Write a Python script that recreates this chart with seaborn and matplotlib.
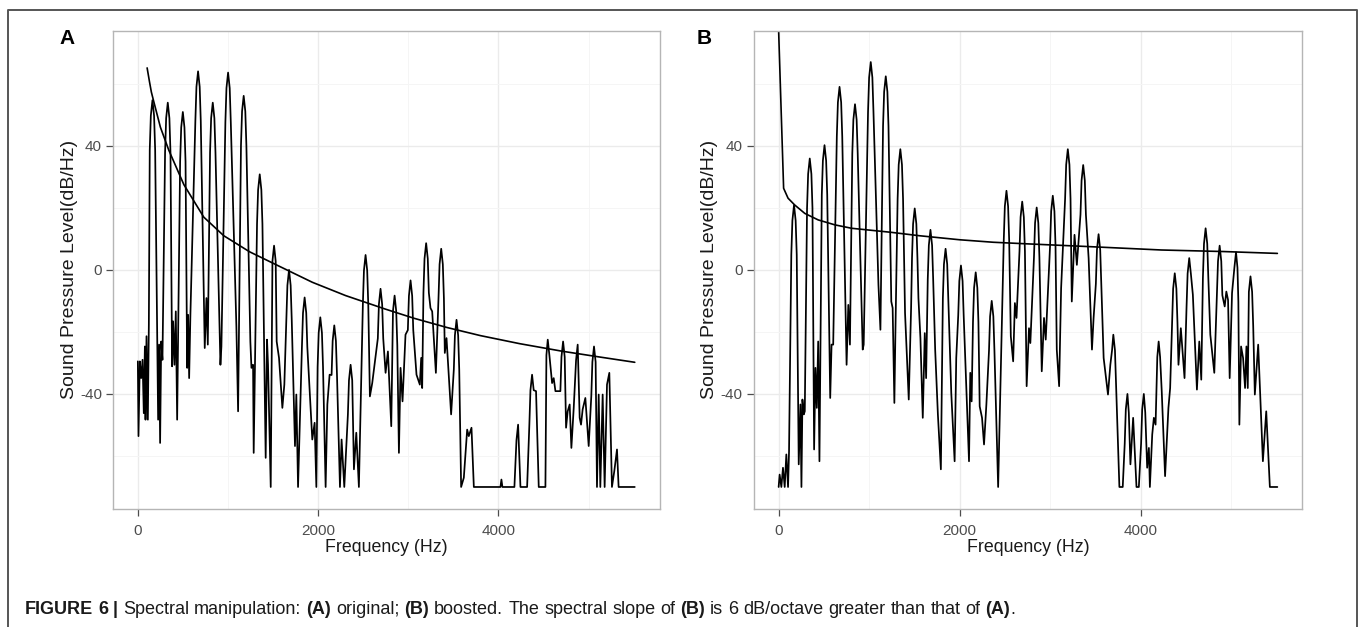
import numpy as np
import pandas as pd
import matplotlib
matplotlib.use("Agg")
import matplotlib.pyplot as plt
from matplotlib.lines import Line2D
from matplotlib import font_manager
import seaborn as sns

# ---------------- data ----------------
a_freq = [0, 7, 22, 37, 52, 66, 78, 85, 96, 111, 122,
          132, 144, 162, 180, 192,
          225, 236, 247, 259, 273,
          302, 314, 332, 350, 362,
          380, 391, 406, 421, 436,
          469, 481, 499, 517, 529,
          547, 558, 569, 583,
          638, 650, 668, 686, 698,
          742, 761, 776,
          801, 813, 831, 849, 861,
          916, 927,
          971, 983, 1001, 1019, 1031,
          1093, 1112,
          1144, 1156, 1174, 1192, 1204,
          1248, 1260, 1278, 1285,
          1322, 1334, 1352, 1370, 1382,
          1418, 1433, 1444, 1474,
          1493, 1511, 1529,
          1540, 1566, 1603, 1625,
          1647, 1659, 1677, 1695, 1707,
          1743, 1758, 1777,
          1820, 1832, 1850, 1868, 1880,
          1935, 1961, 1980,
          1994, 2006, 2024, 2042, 2054,
          2083, 2102, 2127,
          2149, 2161, 2179, 2197, 2209,
          2242, 2260, 2290,
          2330, 2342, 2360, 2378,
          2397, 2423, 2452,
          2496, 2508, 2526, 2544, 2556,
          2574, 2600,
          2662, 2674, 2692, 2710, 2722,
          2748, 2774, 2811,
          2830, 2848, 2866, 2878,
          2896, 2914, 2936, 2969,
          2995, 3007, 3025, 3043, 3055,
          3091, 3128, 3143, 3154,
          3168, 3180, 3198, 3216, 3228,
          3246, 3265, 3306,
          3335, 3347, 3365, 3383, 3395,
          3405, 3424, 3475,
          3505, 3517, 3535, 3553, 3565,
          3586, 3616, 3653, 3671, 3701, 3727, 4022, 4033, 4044, 4177,
          4200, 4218, 4244, 4318,
          4343, 4355, 4373, 4391,
          4417, 4447, 4521,
          4532, 4547, 4565,
          4595, 4613, 4632,
          4687, 4699, 4717, 4735,
          4750, 4768, 4790, 4809, 4835,
          4861, 4879,
          4901, 4916, 4934, 4964, 5001,
          5030, 5042, 5060, 5078,
          5093, 5112, 5130, 5156, 5178, 5204, 5230, 5259, 5285, 5315, 5333, 5512]
a_db = [-29.5, -53.6, -29.5, -34.9, -29.0, -46.2, -24.7, -48.3, -21.4, -48.3, -17.7,
        38.7, 49.7, 54.7, 49.7, 38.7,
        -48.3, -24.1, -55.8, -23.1, -29.0,
        37.9, 48.9, 53.9, 48.9, 37.9,
        -31.1, -16.6, -30.6, -13.4, -48.3,
        34.9, 45.9, 50.9, 45.9, 34.9,
        -31.6, -14.5, -34.9, -14.5,
        48.0, 59.0, 64.0, 59.0, 48.0,
        -25.2, -9.1, -24.1,
        37.9, 48.9, 53.9, 48.9, 37.9,
        -30.6, -24.7,
        47.6, 58.6, 63.6, 58.6, 47.6,
        -18.2, -45.6,
        40.1, 51.1, 56.1, 51.1, 40.1,
        -23.1, -31.6, -30.6, -59.0,
        14.8, 25.8, 30.8, 25.8, 14.8,
        -60.6, -22.5, -30.6, -70,
        2.8, 7.8, 2.8,
        -23.1, -28.4, -44.5, -37.0,
        -16.0, -5.0, 0.0, -5.0, -16.0,
        -56.8, -40.2, -70,
        -24.9, -13.9, -8.9, -13.9, -24.9,
        -54.7, -49.3, -70,
        -31.3, -20.3, -15.3, -20.3, -31.3,
        -70, -43.4, -33.8,
        -33.9, -22.9, -17.9, -22.9, -33.9,
        -70, -54.7, -70,
        -46.6, -35.6, -30.6, -35.6,
        -64.3, -52.5, -70,
        -11.2, -0.2, 4.8, -0.2, -11.2,
        -40.8, -36.5,
        -22.1, -11.1, -6.1, -11.1, -22.1,
        -33.2, -26.3, -50.4,
        -13.3, -8.3, -13.3, -24.3,
        -59.0, -31.6, -42.4, -20.9,
        -19.4, -8.4, -3.4, -8.4, -19.4,
        -33.8, -37.0, -28.4, -38.1,
        -7.4, 3.6, 8.6, 3.6, -7.4,
        -12.3, -13.4, -33.2,
        -9.2, 1.8, 6.8, 1.8, -9.2,
        -26.8, -22.0, -46.6,
        -32.1, -21.1, -16.1, -21.1, -32.1,
        -70, -67.0, -51.5, -53.6, -50.9, -70, -70, -67.6, -70, -70,
        -54.9, -49.9, -70, -70,
        -49.8, -38.8, -33.8, -38.8,
        -39.1, -70, -70,
        -27.5, -22.5, -27.5,
        -36.5, -34.9, -39.1,
        -39.1, -28.1, -23.1, -28.1,
        -50.9, -45.6, -43.4, -57.4, -44.5,
        -29.1, -24.1,
        -47.7, -49.9, -45.0, -41.3, -56.8,
        -40.7, -29.7, -24.7, -29.7,
        -70, -40.2, -70, -40.2, -70, -37.0, -33.2, -70, -64.9, -57.9, -70, -70]

a_trend_freq = [103, 130, 150, 177, 250, 343, 510, 731, 953, 1241, 1566,
                1935, 2305, 2740, 3062, 3431, 3800, 4236, 4700, 5100, 5512]
a_trend_db = [65.1, 60.5, 57.3, 54.2, 46.0, 38.6, 27.5, 17.0, 11.0, 5.8, 1.2,
              -4.0, -8.3, -12.6, -15.6, -18.6, -21.2, -23.8, -26.2, -28.0, -29.8]

b_freq = [0, 11, 30, 48, 67, 85, 104, 115,
          140, 152, 170, 188, 200,
          222, 241, 252, 263, 278, 289,
          314, 326, 344, 362, 374,
          392, 407, 422, 437, 451,
          477, 489, 507, 525, 537,
          570, 585, 603,
          643, 655, 673, 691, 703,
          751, 770, 788,
          814, 826, 844, 862, 874,
          929, 940,
          988, 1000, 1018, 1036, 1048,
          1103, 1125,
          1154, 1166, 1184, 1202, 1214,
          1245, 1260, 1279, 1290,
          1315, 1327, 1345, 1363, 1375,
          1397, 1438, 1464,
          1474, 1486, 1504, 1522, 1534,
          1545, 1567, 1593, 1615, 1630,
          1648, 1660, 1678, 1696, 1708,
          1730, 1760, 1793,
          1815, 1827, 1845, 1863, 1875,
          1908, 1945, 1963,
          1985, 1997, 2015, 2033, 2045,
          2074, 2104, 2118, 2133,
          2148, 2160, 2178, 2196, 2208,
          2222, 2248, 2270, 2296,
          2325, 2337, 2355, 2373, 2385,
          2426,
          2488, 2500, 2518, 2536, 2548,
          2566, 2592, 2611, 2629,
          2662, 2674, 2692, 2710, 2722,
          2741, 2767, 2782,
          2822, 2834, 2852, 2870, 2882,
          2908, 2933, 2952,
          3000, 3012, 3030, 3048, 3060,
          3074, 3100, 3122,
          3166, 3178, 3196, 3214, 3226,
          3240, 3270, 3296,
          3336, 3348, 3366, 3384, 3396,
          3426, 3463, 3481,
          3506, 3518, 3536, 3554, 3566,
          3592, 3640, 3666,
          3685, 3699, 3717, 3729,
          3766, 3803,
          3825, 3837, 3855, 3870,
          3888, 3918, 3955, 3981,
          4006, 4018, 4036, 4052,
          4073, 4092, 4103, 4129, 4147, 4166,
          4185, 4200, 4216,
          4234, 4271, 4308, 4327,
          4348, 4360, 4378, 4396, 4408,
          4419, 4445, 4486,
          4508, 4520, 4538, 4556,
          4578, 4623, 4649, 4671,
          4689, 4701, 4719, 4737, 4749,
          4771, 4815,
          4844, 4856, 4874, 4892, 4904,
          4930, 4948, 4967, 4985, 5011,
          5037, 5055, 5071, 5081,
          5092, 5111, 5133, 5155, 5170, 5185,
          5197, 5215, 5233, 5245,
          5263, 5300, 5352, 5389, 5429, 5512]
b_db = [-70, -66.0, -70, -63.8, -70, -59.5, -70, -58.4,
        4.9, 15.9, 20.9, 15.9, 4.9,
        -62.7, -43.4, -70, -41.8, -46.6, -45.6,
        19.9, 30.9, 35.9, 30.9, 19.9,
        -57.9, -31.6, -44.5, -23.1, -61.7,
        24.2, 35.2, 40.2, 35.2, 24.2,
        -41.3, -24.1, -24.1,
        43.0, 54.0, 59.0, 54.0, 43.0,
        -30.6, -11.3, -24.1,
        37.4, 48.4, 53.4, 48.4, 37.4,
        -25.7, -24.1,
        51.0, 62.0, 67.0, 62.0, 51.0,
        -4.8, -19.3,
        46.4, 57.4, 62.4, 57.4, 46.4,
        -10.2, -12.3, -42.9, -21.4,
        22.9, 33.9, 38.9, 33.9, 22.9,
        -13.9, -41.8, -12.3,
        3.8, 14.8, 19.8, 14.8, 3.8,
        -9.1, -22.0, -47.7, -20.4, -34.9,
        -3.1, 7.9, 12.9, 7.9, -3.1,
        -25.7, -46.6, -64.3,
        -9.2, 1.8, 6.8, 1.8, -9.2,
        -39.7, -61.7, -28.4,
        -14.6, -3.6, 1.4, -3.6, -14.6,
        -38.1, -61.7, -33.2, -42.4,
        -16.8, -5.8, -0.8, -5.8, -16.8,
        -44.0, -47.7, -56.3, -43.4,
        -26.0, -15.0, -10.0, -15.0, -26.0,
        -70,
        9.5, 20.5, 25.5, 20.5, 9.5,
        -21.4, -29.5, -10.7, -15.5,
        6.0, 17.0, 22.0, 17.0, 6.0,
        -37.5, -18.8, -23.6,
        4.1, 15.1, 20.1, 15.1, 4.1,
        -32.7, -15.5, -22.5,
        7.9, 18.9, 23.9, 18.9, 7.9,
        -25.7, -37.5, -5.9,
        22.9, 33.9, 38.9, 33.9, 22.9,
        -10.2, 11.3, 1.6,
        17.8, 28.8, 33.8, 28.8, 17.8,
        3.8, -25.7, -15.5,
        -4.5, 6.5, 11.5, 6.5, -4.5,
        -28.4, -40.2, -30.6,
        -25.9, -20.9, -25.9, -36.9,
        -70, -70,
        -56.0, -45.0, -40.0, -46.0,
        -62.7, -47.7, -70, -70,
        -56.0, -45.0, -40.0, -46.0,
        -63.8, -57.4, -70, -53.1, -47.7, -49.9,
        -28.1, -23.1, -28.1,
        -39.1, -66.5, -44.5, -38.1,
        -17.1, -6.1, -1.1, -6.1, -17.1,
        -30.6, -18.8, -34.9,
        -12.2, -1.2, 3.8, -1.2,
        -8.0, -38.6, -23.1, -35.4,
        -2.6, 8.4, 13.4, 8.4, -2.6,
        -20.9, -33.2,
        -8.2, 2.8, 7.8, 2.8, -8.2,
        -11.8, -7.0, -9.7, -34.9, -7.5,
        0.7, 5.7, 0.7, -10.3,
        -49.9, -24.7, -28.4, -38.1, -24.7, -38.1,
        -7.1, -2.1, -7.1, -18.1,
        -40.2, -24.1, -61.7, -45.6, -70, -70]

b_trend_freq = [0, 55, 104, 178, 289, 437, 622, 807, 1243, 1556, 2000,
                2370, 2733, 3425, 4232, 4919, 5512]
b_trend_db = [77, 26.3, 23.1, 20.9, 18.2, 16.1, 14.5, 13.4, 12.1, 11.0, 9.7,
              8.9, 8.4, 7.5, 6.4, 5.9, 5.3]

x_ticks = [0, 2000, 4000]
x_minor = [1000, 3000, 5000]
y_ticks = [-40, 0, 40]
y_minor = [-60, -20, 20, 60]
panel_labels = ["A", "B"]
x_title = "Frequency (Hz)"
y_title = "Sound Pressure Level(dB/Hz)"
caption_tokens = [("FIGURE", True, False), ("6", True, True), ("|", True, True),
                  ("Spectral", False, True), ("manipulation:", False, True),
                  ("(A)", True, True), ("original;", False, True),
                  ("(B)", True, True), ("boosted.", False, True),
                  ("The", False, True), ("spectral", False, True), ("slope", False, True),
                  ("of", False, True), ("(B)", True, True), ("is", False, True),
                  ("6", False, True), ("dB/octave", False, True), ("greater", False, True),
                  ("than", False, True), ("that", False, True), ("of", False, True),
                  ("(A)", True, True), (".", False, False)]

assert len(a_freq) == len(a_db), (len(a_freq), len(a_db))
assert len(b_freq) == len(b_db), (len(b_freq), len(b_db))

# ---------------- style ----------------
sns.set_theme(style="white")
plt.rcParams['font.family'] = ['Liberation Sans', 'DejaVu Sans']
plt.rcParams['axes.unicode_minus'] = False

W, H = 1358, 627
fig = plt.figure(figsize=(W / 100, H / 100), dpi=100)
fig.patch.set_facecolor("white")

def px_rect(l, t, r, b):
    return [l / W, 1 - b / H, (r - l) / W, (b - t) / H]

axA = fig.add_axes(px_rect(113, 31, 659.6, 508.7))
axB = fig.add_axes(px_rect(753.7, 31, 1302.3, 508.7))

series = [
    (axA, a_freq, a_db, a_trend_freq, a_trend_db),
    (axB, b_freq, b_db, b_trend_freq, b_trend_db),
]

for ax, f, d, tf, td in series:
    df = pd.DataFrame({"freq": f, "db": d})
    dt = pd.DataFrame({"freq": tf, "db": td})
    sns.lineplot(data=df, x="freq", y="db", ax=ax, color="black", linewidth=1.25,
                 estimator=None, sort=False, legend=False)
    sns.lineplot(data=dt, x="freq", y="db", ax=ax, color="black", linewidth=1.2,
                 estimator=None, sort=False, legend=False)
    ax.set_xlim(-275.6, 5787.6)
    ax.set_ylim(-77, 77)
    ax.set_xticks(x_ticks)
    ax.set_xticklabels([str(v) for v in x_ticks])
    ax.set_xticks(x_minor, minor=True)
    ax.set_yticks(y_ticks)
    ax.set_yticklabels([str(v) for v in y_ticks])
    ax.set_yticks(y_minor, minor=True)
    ax.set_facecolor("white")
    ax.grid(which="major", color="#ebebeb", linewidth=1.0)
    ax.grid(which="minor", color="#f5f5f5", linewidth=0.7)
    ax.set_axisbelow(True)
    for s in ax.spines.values():
        s.set_color("#b5b5b5")
        s.set_linewidth(1.0)
    ax.tick_params(which="major", length=5, width=0.9, color="#4d4d4d",
                   labelsize=11, labelcolor="#4d4d4d", bottom=True, left=True)
    ax.tick_params(axis="x", pad=6)
    ax.tick_params(axis="y", pad=3)
    ax.tick_params(which="minor", length=0)
    ax.set_xlabel(x_title, fontsize=12.8, color="#1a1a1a")
    ax.set_ylabel(y_title, fontsize=14, color="#1a1a1a")
    ax.xaxis.label.set_va("center")
    ax.yaxis.label.set_va("center")

axA.xaxis.set_label_coords(0.5, (508.7 - 547) / 477.7)
axB.xaxis.set_label_coords(0.5, (508.7 - 547) / 477.7)
axA.yaxis.set_label_coords((69 - 113) / 546.6, 0.5)
axB.yaxis.set_label_coords((709 - 753.7) / 548.6, 0.5)

fig.text(67 / W, 1 - 38 / H, panel_labels[0], fontsize=15, fontweight="bold",
         ha="center", va="center", color="black")
fig.text(704 / W, 1 - 38 / H, panel_labels[1], fontsize=15, fontweight="bold",
         ha="center", va="center", color="black")

# frame around the figure (open at bottom)
fx = [7.8 / W, 7.8 / W, 1357.3 / W, 1357.3 / W]
fy = [0.0, 1 - 9.5 / H, 1 - 9.5 / H, 0.0]
fig.add_artist(Line2D(fx, fy, transform=fig.transFigure, color="#555555", linewidth=1.4))

# caption with mixed bold
names = {f.name for f in font_manager.fontManager.ttflist}
cap_family = ['Liberation Sans Narrow', 'Liberation Sans'] if 'Liberation Sans Narrow' in names else ['Liberation Sans']
renderer = fig.canvas.get_renderer()

def text_w(s, bold, size):
    t = fig.text(0, 0, s, fontsize=size, fontweight="bold" if bold else "normal", family=cap_family)
    w = t.get_window_extent(renderer).width
    t.remove()
    return w

def layout(size):
    sp = text_w("a a", False, size) - text_w("aa", False, size)
    pos = []
    x = 0.0
    for txt, bold, space_before in caption_tokens:
        if space_before:
            x += sp
        pos.append(x)
        x += text_w(txt, bold, size)
    return pos, x

base = 14.0
_, tot = layout(base)
size = base * (1022.6 - 24.7) / tot
pos, tot = layout(size)
x0 = 24.7
for (txt, bold, _s), p in zip(caption_tokens, pos):
    fig.text((x0 + p) / W, 1 - 614 / H, txt, fontsize=size,
             fontweight="bold" if bold else "normal", family=cap_family,
             ha="left", va="baseline", color="#1a1a1a")

fig.savefig("out.png", dpi=100, facecolor="white")
